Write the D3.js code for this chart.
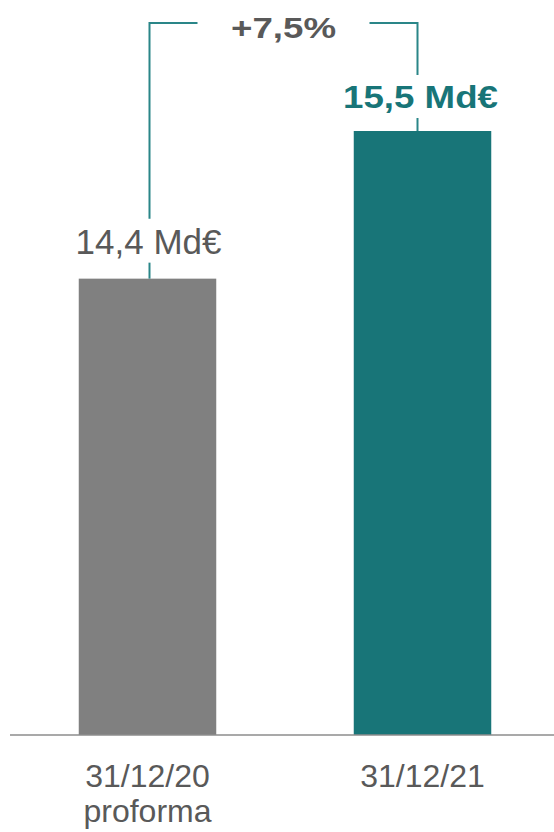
<!DOCTYPE html>
<html>
<head>
<meta charset="utf-8">
<script src="https://cdn.jsdelivr.net/npm/d3@7"></script>
<style>
  body { margin: 0; background: #fff; }
  svg { display: block; font-family: "Liberation Sans", Arial, sans-serif; }
</style>
</head>
<body>
<svg id="chart" width="554" height="832"></svg>
<script>
// data
const categories = ['31/12/20', '31/12/21'];
const subLabels = ['proforma', ''];
const values = [14.4, 15.5];
const valueLabels = ['14,4 Md€', '15,5 Md€'];
const growthLabel = '+7,5%';

const colors = ['#808080', '#187578'];
const textGray = '#595959';
const bracketColor = '#2a8688';

const svg = d3.select('#chart');
const baseline = 735;

const x = d3.scaleBand().domain(categories).range([10, 560]).paddingInner(0.5).paddingOuter(0.25);
// axis does not start at zero in the original
const y = d3.scaleLinear().domain([11, 15.5]).range([baseline, 131]);

// bars
svg.append('g')
  .selectAll('rect')
  .data(categories)
  .enter().append('rect')
  .attr('x', d => x(d))
  .attr('y', (d, i) => y(values[i]))
  .attr('width', x.bandwidth())
  .attr('height', (d, i) => baseline - y(values[i]))
  .attr('fill', (d, i) => colors[i]);

// baseline
svg.append('line')
  .attr('x1', 10).attr('x2', 554)
  .attr('y1', baseline).attr('y2', baseline)
  .attr('stroke', '#8c8c8c').attr('stroke-width', 1.5);

// category labels
const cx = d => x(d) + x.bandwidth() / 2;
const catG = svg.append('g').attr('fill', textGray).attr('font-size', 32).attr('text-anchor', 'middle');
catG.selectAll('.cat')
  .data(categories)
  .enter().append('text')
  .attr('class', 'cat')
  .attr('x', cx)
  .attr('y', 787)
  .text(d => d);
catG.selectAll('.sub')
  .data(categories)
  .enter().append('text')
  .attr('class', 'sub')
  .attr('x', cx)
  .attr('y', 822)
  .text((d, i) => subLabels[i]);

// bracket
const lx = cx(categories[0]) + 2;
const rx = cx(categories[1]) - 5;
const topY = 23;
const br = svg.append('g').attr('stroke', bracketColor).attr('stroke-width', 2).attr('fill', 'none');
br.append('path').attr('d', `M${lx},${y(values[0]) - 42 - 18}V${topY}H${lx + 48}`);
br.append('path').attr('d', `M${lx},${y(values[0])}V${y(values[0]) - 16}`);
br.append('path').attr('d', `M${rx - 48},${topY}H${rx}V${y(values[1]) - 56}`);
br.append('path').attr('d', `M${rx},${y(values[1])}V${y(values[1]) - 13}`);

// value labels
svg.append('text')
  .attr('x', cx(categories[0]) + 1)
  .attr('y', y(values[0]) - 25)
  .attr('text-anchor', 'middle')
  .attr('font-size', 35)
  .attr('fill', textGray)
  .text(valueLabels[0]);

svg.append('text')
  .attr('x', cx(categories[1]) - 2)
  .attr('y', y(values[1]) - 23)
  .attr('text-anchor', 'middle')
  .attr('font-size', 32)
  .attr('font-weight', 'bold')
  .attr('fill', colors[1])
  .attr('textLength', 155)
  .attr('lengthAdjust', 'spacingAndGlyphs')
  .text(valueLabels[1]);

svg.append('text')
  .attr('x', (lx + rx) / 2)
  .attr('y', 38)
  .attr('text-anchor', 'middle')
  .attr('font-size', 30)
  .attr('font-weight', 'bold')
  .attr('fill', textGray)
  .attr('textLength', 105)
  .attr('lengthAdjust', 'spacingAndGlyphs')
  .text(growthLabel);
</script>
</body>
</html>
